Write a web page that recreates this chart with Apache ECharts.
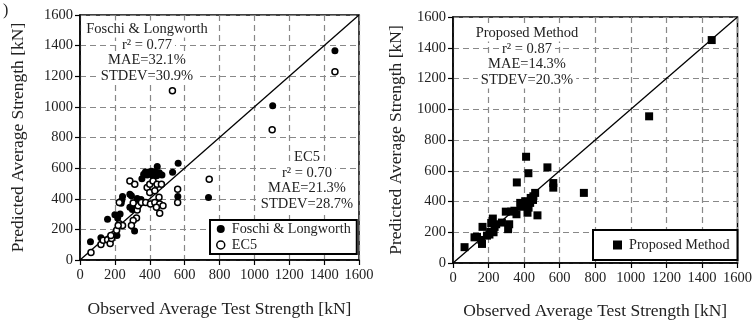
<!DOCTYPE html>
<html><head><meta charset="utf-8">
<script src="https://cdn.jsdelivr.net/npm/echarts@6/dist/echarts.min.js"></script>
<style>html,body{margin:0;padding:0;background:#fff}#c{width:755px;height:325px}</style>
</head><body><div id="c"></div>
<script>
// ---- data ----
var foschi = [[60,120],[120,146],[158,266],[200,296],[216,275],[212,160],[230,300],[240,392],[244,414],[236,370],[286,430],[295,419],[309,366],[286,344],[337,370],[313,190],[315,371],[328,401],[320,340],[350,395],[300,330],
  [355,530],[365,560],[375,575],[385,555],[395,575],[405,560],[410,580],[420,565],[430,575],[440,550],[443,610],[455,570],[470,555],[420,545],
  [531,573],[563,632],[561,414],[737,408],[1105,1008],[1462,1367]];
var ec5 = [[63,49],[120,101],[133,129],[158,133],[173,108],[181,140],[177,160],[210,194],[225,237],[244,226],[219,226],[225,376],[286,516],[314,494],[324,275],[305,258],[295,226],
  [328,327],[333,355],[352,376],[377,376],[385,473],[400,494],[419,516],[442,494],[467,494],[400,441],[429,452],[404,366],[429,376],[453,409],[457,366],[457,305],[438,344],[476,355],[305,372],
  [560,462],[560,376],[530,1105],[741,527],[1102,850],[1462,1229]];
var proposed = [[65,103],[121,167],[135,170],[163,124],[160,150],[166,235],[191,178],[209,203],[205,185],[224,289],[215,260],[234,235],[243,252],[228,200],[275,263],[297,334],[310,220],[316,252],[327,334],[345,340],[357,317],[359,524],[383,366],[378,391],[395,380],[406,402],[411,691],[424,584],[419,327],[434,391],[437,423],[452,434],[462,456],[450,410],[475,310],[425,360],[531,622],[564,520],[564,490],[736,456],[1103,954],[1455,1450]];
var diagonal = [[0,0],[1600,1600]];
var ticks = {min:0, max:1600, interval:200};
var xTitle = 'Observed Average Test Strength [kN]';
var yTitle = 'Predicted Average Strength [kN]';
var note1 = ['Foschi & Longworth','r\u00b2 = 0.77','MAE=32.1%','STDEV=30.9%'];
var note2 = ['EC5','r\u00b2 = 0.70','MAE=21.3%','STDEV=28.7%'];
var note3 = ['Proposed Method','r\u00b2 = 0.87','MAE=14.3%','STDEV=20.3%'];

var F = 'Liberation Serif, Times New Roman, serif';
var TXT = '#222';
function fmt(v){return String(v);}
function axisX(gi,gap){return {type:'value',gridIndex:gi,min:ticks.min,max:ticks.max,interval:ticks.interval,
  name:xTitle,nameLocation:'middle',nameGap:gap,nameTextStyle:{fontFamily:F,fontSize:17.5,color:TXT},
  axisLine:{onZero:false,lineStyle:{color:'#000',width:1.5}},axisTick:{show:true,inside:false,length:5,lineStyle:{color:'#000',width:1.2}},
  axisLabel:{fontFamily:F,fontSize:14.5,color:TXT,margin:8,formatter:fmt},
  splitLine:{show:true,lineStyle:{color:'#888',type:[6,4],width:1.2}}};}
function axisY(gi,gap){return {type:'value',gridIndex:gi,min:ticks.min,max:ticks.max,interval:ticks.interval,
  name:yTitle,nameLocation:'middle',nameGap:gap,nameTextStyle:{fontFamily:F,fontSize:17.5,color:TXT},
  axisLine:{onZero:false,lineStyle:{color:'#000',width:1.5}},axisTick:{show:true,inside:false,length:5,lineStyle:{color:'#000',width:1.2}},
  axisLabel:{fontFamily:F,fontSize:14.5,color:TXT,margin:7,formatter:fmt},
  splitLine:{show:true,lineStyle:{color:'#888',type:[6,4],width:1.2}}};}
function note(lines,cx,y0){return lines.map(function(t,i){return {type:'text',x:cx,y:y0+i*15.7,z:20,
  style:{text:t,fontFamily:F,fontSize:14.5,fill:TXT,align:'center',verticalAlign:'middle',
    backgroundColor:'#fff',padding:[1,3,1,3]}};});}

var chart = echarts.init(document.getElementById('c'),null,{renderer:'canvas'});
chart.setOption({
  animation:false,
  backgroundColor:'#fff',
  grid:[{left:80,right:396,top:15,bottom:65,show:true,borderColor:'#000',borderWidth:1.5,backgroundColor:'transparent'},
        {left:453,right:17,top:17,bottom:59,show:true,borderColor:'#000',borderWidth:1.5,backgroundColor:'transparent'}],
  xAxis:[axisX(0,40),axisX(1,39)],
  yAxis:[axisY(0,53),axisY(1,48)],
  legend:[{data:[{name:'Foschi & Longworth',itemStyle:{borderWidth:0}},{name:'EC5',itemStyle:{borderWidth:1.5}}],orient:'vertical',left:210,top:220,itemGap:2,itemWidth:8,itemHeight:8,
      padding:[2,6,2,6],borderColor:'#000',borderWidth:2,backgroundColor:'#fff',
      textStyle:{fontFamily:F,fontSize:14.2,color:TXT,padding:[0,0,0,2]}},
    {data:['Proposed Method'],left:593,top:230,itemWidth:9,itemHeight:9,padding:[8,8,8,20],
      borderColor:'#000',borderWidth:2,backgroundColor:'#fff',textStyle:{fontFamily:F,fontSize:14.2,color:TXT,padding:[0,0,0,2]}}],
  series:[
    {type:'line',xAxisIndex:0,yAxisIndex:0,data:diagonal,symbol:'none',lineStyle:{color:'#000',width:1.3},silent:true,z:1},
    {type:'line',xAxisIndex:1,yAxisIndex:1,data:diagonal,symbol:'none',lineStyle:{color:'#000',width:1.3},silent:true,z:1},
    {name:'Foschi & Longworth',type:'scatter',xAxisIndex:0,yAxisIndex:0,data:foschi,symbol:'circle',symbolSize:7,
      itemStyle:{color:'#000',borderColor:'#000',borderWidth:0,opacity:1},z:3},
    {name:'EC5',type:'scatter',xAxisIndex:0,yAxisIndex:0,data:ec5,symbol:'circle',symbolSize:6,
      itemStyle:{color:'#fff',borderColor:'#000',borderWidth:1.5,opacity:1},z:4},
    {name:'Proposed Method',type:'scatter',xAxisIndex:1,yAxisIndex:1,data:proposed,symbol:'rect',symbolSize:8,
      itemStyle:{color:'#000',opacity:1},z:3}
  ],
  graphic:[{type:'text',x:3,y:3,style:{text:')',fontFamily:F,fontSize:16,fill:TXT}}]
    .concat(note(note1,147,29)).concat(note(note2,307,157)).concat(note(note3,527,33))
});
</script></body></html>
